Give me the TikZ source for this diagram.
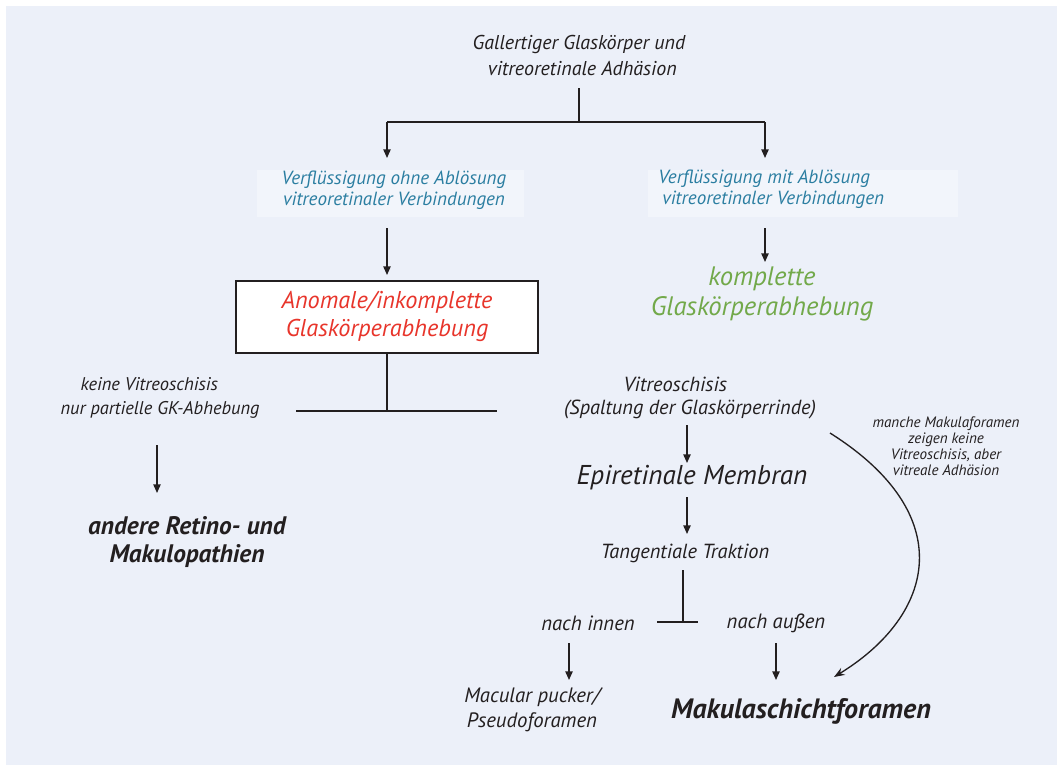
\documentclass[tikz,border=0pt]{standalone}
\usepackage{fontspec}
\setmainfont{PT Sans}
\usetikzlibrary{arrows.meta}
\definecolor{bg}{HTML}{ECF0F9}
\definecolor{boxbg}{HTML}{F2F5FB}
\definecolor{txt}{HTML}{231F20}
\definecolor{tblue}{HTML}{2B7EA1}
\definecolor{tred}{HTML}{E8352B}
\definecolor{tgreen}{HTML}{72A94A}
\tikzset{
  base/.style={inner sep=0pt, align=center, text=txt, font=\itshape},
  arr/.style={draw=txt, line width=1.1pt, -{Triangle[length=6.5pt,width=5.5pt]}},
  ln/.style={draw=txt, line width=1.1pt},
  curvarr/.style={draw=txt, line width=1pt, -{Stealth[length=8pt,width=6pt]}},
}
\newcommand{\fs}[2]{\fontsize{#1}{#2}\selectfont}
\begin{document}
\begin{tikzpicture}[x=0.75pt,y=-0.75pt]
\useasboundingbox (0,0) rectangle (1057,765);
\fill[white] (0,0) rectangle (1057,765);
\fill[bg] (6,6) rectangle (1057,765);
% light panels behind blue text
\fill[boxbg] (257,170) rectangle (524,217);
\fill[boxbg] (648,170) rectangle (958,217);

\node[base, font=\itshape\fs{15}{19.5}] (top) at (579,55) {Gallertiger Glaskörper und\\\hspace*{5pt}vitreoretinale Adhäsion};
\coordinate (tj) at (579,88);
\coordinate (tm) at (579,122);
\coordinate (tl) at (387,122);
\coordinate (tr) at (765,122);
\coordinate (tle) at (387,158);
\coordinate (tre) at (765,158);
\draw[ln] (tj) -- (tm);
\draw[ln] (tl) -- (tr);
\draw[arr] (tl) -- (tle);
\draw[arr] (tr) -- (tre);

\node[base, text=tblue, font=\itshape\fs{14.3}{16}] (bl) at (394,190) {Verflüssigung ohne Ablösung\\vitreoretinaler Verbindungen};
\node[base, text=tblue, align=left, anchor=west, font=\itshape\fs{14.3}{16}] (br) at (658,189) {Verflüssigung mit Ablösung\\\hspace*{3pt}vitreoretinaler Verbindungen};

\coordinate (bla) at (387,228);
\coordinate (blb) at (387,275);
\draw[arr] (bla) -- (blb);
\coordinate (bra) at (765,228);
\coordinate (brb) at (765,262);
\draw[arr] (bra) -- (brb);

\node[draw=txt, line width=1pt, fill=white, minimum width=226.5pt, minimum height=54pt, inner sep=0pt] (rbox) at (387,317) {};
\node[base, text=tred, font=\itshape\fs{18.2}{21}] (red) at (387,316) {Anomale/inkomplette\\Glaskörperabhebung};

\node[base, text=tgreen, font=\itshape\fs{20}{22.5}] (green) at (762,294) {komplette\\Glaskörperabhebung};

\coordinate (rj) at (387,411);
\coordinate (rl) at (296,411);
\coordinate (rr) at (497,411);
\draw[ln] (rbox.south) -- (rj);
\draw[ln] (rl) -- (rr);

\node[base, font=\itshape\fs{13.8}{18}] (keine) at (160,398) {keine Vitreoschisis\hspace*{16pt}\\nur partielle GK-Abhebung};
\coordinate (ka) at (157,445);
\coordinate (kb) at (157,493);
\draw[arr] (ka) -- (kb);
\node[base, font=\bfseries\itshape\fs{19}{21}] (andere) at (187,542) {andere Retino- und\\Makulopathien};

\node[base, font=\itshape\fs{15.3}{17.25}] (vs) at (690,398) {Vitreoschisis\hspace*{22pt}\\(Spaltung der Glaskörperrinde)};
\coordinate (va) at (687,425);
\coordinate (vb) at (687,463);
\draw[arr] (va) -- (vb);
\node[base, font=\itshape\fs{20.4}{22}] (epi) at (692,478) {Epiretinale Membran};
\coordinate (ea) at (687,497);
\coordinate (eb) at (687,534);
\draw[arr] (ea) -- (eb);
\node[base, font=\itshape\fs{15.3}{17}] (tang) at (685,553) {Tangentiale Traktion};
\coordinate (ta) at (683,570);
\coordinate (tb) at (683,622);
\coordinate (tbl) at (657,622);
\coordinate (tbr) at (698,622);
\draw[ln] (ta) -- (tb);
\draw[ln] (tbl) -- (tbr);

\node[base, font=\itshape\fs{15.5}{17}] (innen) at (588,623) {nach innen};
\node[base, font=\itshape\fs{15.5}{17}] (aussen) at (776,623) {nach außen};
\coordinate (ia) at (569,643);
\coordinate (ib) at (569,680);
\draw[arr] (ia) -- (ib);
\coordinate (aa) at (776,643);
\coordinate (ab) at (776,680);
\draw[arr] (aa) -- (ab);

\node[base, font=\itshape\fs{15.6}{18.75}] (pucker) at (532,710) {Macular pucker/\\Pseudoforamen};
\node[base, font=\bfseries\itshape\fs{21}{23}] (mak) at (801,711) {Makulaschichtforamen};

\node[base, font=\itshape\fs{11.3}{12}] (manche) at (946,446) {manche Makulaforamen\\zeigen keine\\Vitreoschisis, aber\\vitreale Adhäsion};
\coordinate (ca) at (830,433);
\coordinate (cb) at (834,677);
\draw[curvarr] (ca) .. controls (960,515) and (935,615) .. (cb);
\end{tikzpicture}
\end{document}
